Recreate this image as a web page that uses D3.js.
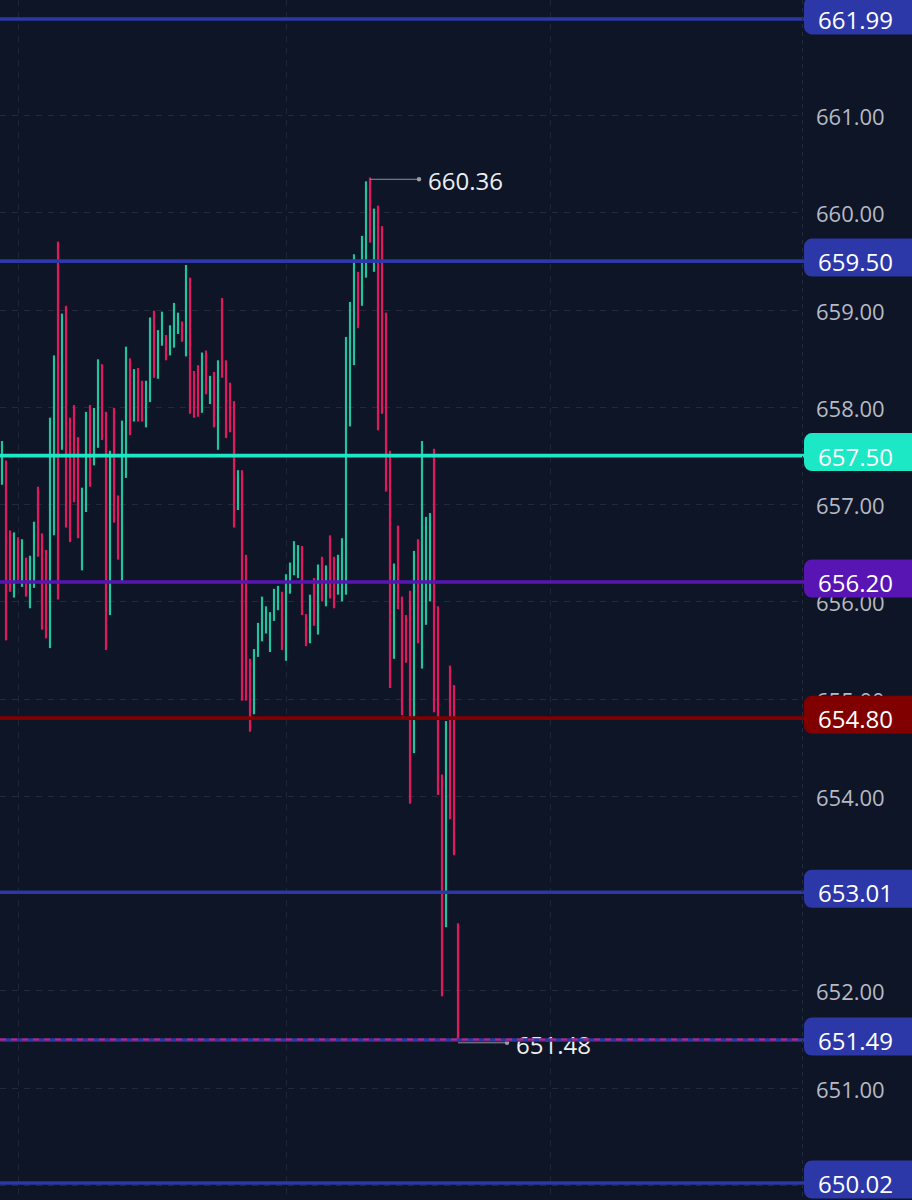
<!DOCTYPE html>
<html>
<head>
<meta charset="utf-8">
<script src="https://cdn.jsdelivr.net/npm/d3@7"></script>
<style>
  html, body { margin: 0; padding: 0; background: #0e1526; }
  svg { display: block; }
</style>
</head>
<body>
<div id="chart"></div>
<script>
// Bar highs / lows (price) and direction (1 = up, 0 = down), oldest first
const highs = [
  657.65, 657.45, 656.73, 656.71, 656.66, 656.64, 656.45, 656.47, 656.82, 657.18,
  656.70, 656.53, 657.89, 658.53, 659.70, 658.96, 659.04, 657.89, 658.02, 657.69,
  657.17, 657.95, 658.02, 657.99, 658.49, 658.44, 657.95, 657.55, 657.99, 657.09,
  657.86, 658.62, 658.50, 658.39, 658.40, 658.27, 658.27, 658.92, 658.99, 658.79,
  658.98, 658.74, 658.84, 659.07, 658.97, 658.88, 659.46, 659.33, 658.37, 658.43,
  658.56, 658.58, 658.32, 658.36, 658.48, 659.12, 658.48, 658.25, 658.06, 657.35,
  657.35, 656.48, 655.41, 655.51, 655.78, 656.05, 655.95, 655.89, 656.13, 656.16,
  656.10, 656.28, 656.40, 656.62, 656.58, 656.57, 655.87, 656.07, 656.24, 656.38,
  656.46, 656.37, 656.68, 656.46, 656.48, 656.65, 658.72, 659.08, 659.57, 659.39,
  659.76, 660.32, 660.36, 660.04, 660.07, 659.86, 658.97, 657.55, 656.39, 656.78,
  656.05, 655.86, 656.11, 656.52, 656.64, 657.65, 656.87, 656.91, 657.57, 655.95,
  654.22, 654.77, 655.34, 655.14, 652.69
];
const lows = [
  657.20, 655.60, 656.10, 656.04, 656.22, 656.15, 656.05, 655.93, 656.14, 656.46,
  655.71, 655.62, 655.52, 656.68, 656.02, 657.56, 656.76, 656.61, 657.02, 656.65,
  656.32, 656.92, 657.18, 657.40, 657.58, 657.66, 655.50, 655.86, 656.81, 656.43,
  656.20, 657.27, 657.71, 657.85, 657.85, 657.85, 657.79, 658.05, 658.30, 658.29,
  658.63, 658.48, 658.53, 658.61, 658.75, 658.67, 658.52, 657.93, 657.89, 657.90,
  657.94, 658.13, 658.03, 657.79, 657.56, 658.30, 657.68, 657.74, 656.76, 656.94,
  654.98, 654.98, 654.66, 654.84, 655.43, 655.59, 655.67, 655.48, 655.80, 655.91,
  655.50, 655.39, 656.08, 656.27, 656.24, 655.86, 655.54, 655.57, 655.75, 655.66,
  656.00, 655.95, 656.03, 655.93, 656.07, 656.00, 656.07, 657.80, 658.43, 658.81,
  659.04, 659.33, 659.69, 659.39, 657.76, 657.93, 657.13, 655.11, 655.41, 655.92,
  654.83, 655.37, 653.92, 654.44, 655.57, 655.31, 655.76, 656.00, 654.86, 654.01,
  651.94, 652.65, 653.76, 653.39, 651.48
];
const rising = [
  1, 0, 0, 1, 0, 1, 0, 1, 1, 0,
  0, 0, 1, 1, 0, 1, 0, 0, 0, 0,
  1, 1, 0, 1, 1, 0, 0, 1, 0, 0,
  1, 1, 0, 1, 0, 0, 1, 1, 0, 1,
  1, 0, 1, 1, 1, 0, 1, 0, 0, 0,
  1, 0, 1, 0, 1, 0, 0, 0, 0, 1,
  0, 0, 0, 1, 1, 1, 1, 1, 1, 1,
  0, 1, 1, 1, 1, 0, 0, 1, 0, 1,
  0, 1, 0, 0, 1, 1, 1, 1, 1, 0,
  1, 1, 0, 1, 0, 0, 0, 0, 1, 0,
  0, 0, 0, 1, 0, 1, 1, 1, 0, 0,
  0, 1, 0, 0, 0
];

// Horizontal price levels and their kinds
const levelPrices = [661.99, 659.50, 657.50, 656.20, 654.80, 653.01, 651.49, 650.02];
const levelKinds  = ["blue", "blue", "cyan", "purple", "red", "blue", "blue", "blue"];

// Price axis ticks and labels
const tickValues = [650, 651, 652, 653, 654, 655, 656, 657, 658, 659, 660, 661, 662];
const tickLabels = ["650.00", "651.00", "652.00", "653.00", "654.00", "655.00", "656.00",
                    "657.00", "658.00", "659.00", "660.00", "661.00", "662.00"];

// Time grid positions (bar index)
const timeGrid = [4, 71, 137];

// Marked extremes and last price
const highIndex = 92, highLabel = "660.36";
const lowIndex = 114, lowLabel = "651.48";
const lastPrice = 651.48;

// ---- drawing ----
const W = 912, H = 1200, paneRight = 802;
const FONT = "'Open Sans', 'Noto Sans', sans-serif";
const kindColor = { blue: "#2c37a8", cyan: "#1ce8c6", purple: "#5914b4", red: "#800000" };
const upColor = "#22c4a0", downColor = "#e1185f";

const svg = d3.select("#chart").append("svg").attr("width", W).attr("height", H);
svg.append("rect").attr("width", W).attr("height", H).attr("fill", "#0e1526");

const x = d3.scaleLinear().domain([0, 200]).range([2, paneRight]);
const y = d3.scaleLinear().domain([649.845, 662.185]).range([H, 0]);

const pane = svg.append("g");

// grid
pane.append("g").selectAll("line").data(tickValues).join("line")
  .attr("x1", 0).attr("x2", paneRight)
  .attr("y1", d => Math.round(y(d)) + 0.5).attr("y2", d => Math.round(y(d)) + 0.5)
  .attr("stroke", "#222a3c").attr("stroke-width", 1).attr("stroke-dasharray", "6 6");
pane.append("g").selectAll("line").data(timeGrid).join("line")
  .attr("x1", d => Math.round(x(d)) + 0.5).attr("x2", d => Math.round(x(d)) + 0.5)
  .attr("y1", 0).attr("y2", H)
  .attr("stroke", "#1d2536").attr("stroke-width", 1).attr("stroke-dasharray", "6 6");

// axis separator
svg.append("line").attr("x1", paneRight + 0.5).attr("x2", paneRight + 0.5)
  .attr("y1", 0).attr("y2", H).attr("stroke", "#222a3c").attr("stroke-dasharray", "4 4");

// bars
const bars = highs.map((h, i) => ({ i, h, l: lows[i], up: rising[i] === 1 }));
pane.append("g").selectAll("rect").data(bars).join("rect")
  .attr("x", d => x(d.i) - 1.1)
  .attr("width", 2.2)
  .attr("y", d => y(d.h))
  .attr("height", d => Math.max(1, y(d.l) - y(d.h)))
  .attr("fill", d => d.up ? upColor : downColor);

// high / low annotations
function markExtreme(idx, price, label) {
  const bx = x(idx), by = y(price) + 1.8, dotX = bx + 49;
  const g = pane.append("g");
  g.append("line").attr("x1", bx).attr("x2", dotX).attr("y1", by).attr("y2", by)
    .attr("stroke", "#8d929c").attr("stroke-width", 1);
  g.append("circle").attr("cx", dotX).attr("cy", by).attr("r", 2.2).attr("fill", "#9a9ea8");
  g.append("text").attr("x", dotX + 9).attr("y", by + 1.5)
    .attr("dominant-baseline", "central")
    .attr("font-family", FONT).attr("font-size", 24).attr("fill", "#eceef2")
    .text(label);
}
markExtreme(highIndex, highs[highIndex], highLabel);
markExtreme(lowIndex, lows[lowIndex], lowLabel);

// level lines
const levels = levelPrices.map((p, k) => ({ p, kind: levelKinds[k] }));
pane.append("g").selectAll("line").data(levels).join("line")
  .attr("x1", 0).attr("x2", paneRight + 4)
  .attr("y1", d => y(d.p)).attr("y2", d => y(d.p))
  .attr("stroke", d => kindColor[d.kind]).attr("stroke-width", 3.6);

// last price line
pane.append("line")
  .attr("x1", 0).attr("x2", paneRight)
  .attr("y1", y(lastPrice) - 1.5).attr("y2", y(lastPrice) - 1.5)
  .attr("stroke", "#d81b60").attr("stroke-width", 2).attr("stroke-dasharray", "6 5");

// price axis tick labels (those sitting under a level tag are covered by it)
const visibleTicks = tickValues
  .map((v, k) => ({ v, label: tickLabels[k] }))
  .filter(t => levelPrices.every(p => Math.abs(y(p) - y(t.v)) > 10));
svg.append("g").selectAll("text").data(visibleTicks).join("text")
  .attr("x", 816).attr("y", d => y(d.v) + 1)
  .attr("dominant-baseline", "central")
  .attr("font-family", FONT).attr("font-size", 22).attr("fill", "#b6bac4")
  .text(d => d.label);

// level labels on the axis
const tags = svg.append("g").selectAll("g").data(levels).join("g");
tags.append("rect")
  .attr("x", 804).attr("width", 130)
  .attr("y", d => y(d.p) - 22.5).attr("height", 38)
  .attr("rx", 8).attr("fill", d => kindColor[d.kind]);
tags.append("text")
  .attr("x", 818).attr("y", d => y(d.p) + 0.5)
  .attr("dominant-baseline", "central")
  .attr("font-family", FONT).attr("font-size", 24)
  .attr("fill", "#ffffff")
  .text(d => d.p.toFixed(2));
</script>
</body>
</html>
